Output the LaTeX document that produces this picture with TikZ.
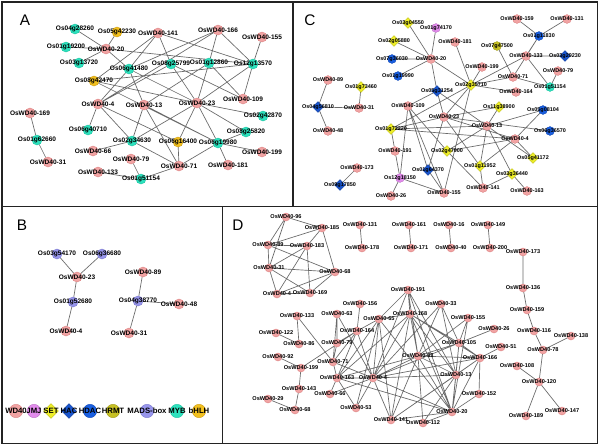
\documentclass[tikz,border=0pt]{standalone}
\usepackage{fontspec}
\setmainfont{Liberation Sans}
\usetikzlibrary{shapes.geometric}
\pgfdeclarelayer{bg}
\pgfsetlayers{bg,main}
\definecolor{wdf}{RGB}{241,163,163}\definecolor{wdd}{RGB}{220,130,130}
\definecolor{mybf}{RGB}{45,226,190}\definecolor{mybd}{RGB}{25,195,160}
\definecolor{bhlhf}{RGB}{242,192,30}\definecolor{bhlhd}{RGB}{205,155,15}
\definecolor{setf}{RGB}{238,238,40}\definecolor{setd}{RGB}{190,190,20}
\definecolor{jmjf}{RGB}{226,140,236}\definecolor{jmjd}{RGB}{190,110,200}
\definecolor{hacf}{RGB}{25,85,205}\definecolor{hacd}{RGB}{15,60,160}
\definecolor{hdacf}{RGB}{25,95,225}\definecolor{hdacd}{RGB}{15,70,180}
\definecolor{hrmtf}{RGB}{198,192,35}\definecolor{hrmtd}{RGB}{160,155,20}
\definecolor{madsf}{RGB}{152,150,236}\definecolor{madsd}{RGB}{120,118,205}
\definecolor{edgec}{RGB}{105,105,105}
\definecolor{bordc}{RGB}{35,35,35}
\tikzset{
  base/.style={inner sep=0pt,outer sep=0pt,line width=0.3pt},
  wd/.style={base,circle,fill=wdf,draw=wdd,sz},
  myb/.style={base,circle,fill=mybf,draw=mybd,sz},
  bhlh/.style={base,circle,fill=bhlhf,draw=bhlhd,sz},
  jmj/.style={base,circle,fill=jmjf,draw=jmjd,sz},
  hdac/.style={base,circle,fill=hdacf,draw=hdacd,sz},
  hrmt/.style={base,circle,fill=hrmtf,draw=hrmtd,sz},
  mads/.style={base,circle,fill=madsf,draw=madsd,sz},
  setd/.style={base,diamond,aspect=1,fill=setf,draw=setd,dsz},
  hac/.style={base,diamond,aspect=1,fill=hacf,draw=hacd,dsz},
  sz/.style={minimum size=7.5pt},
  dsz/.style={minimum size=8.5pt},
  lab/.style={font=\bfseries\fontsize{4.9}{5}\selectfont,inner sep=0pt},
  edge/.style={draw=edgec,line width=0.5pt},
  border/.style={draw=bordc,line width=1.2pt},
  plab/.style={font=\fontsize{11.5}{12}\selectfont,inner sep=0pt}
}
\newcommand{\mynode}[4]{\node[#1,label={[lab]center:#4}] (#2) at (#3) {};}
\begin{document}
\begin{tikzpicture}[x=0.75pt,y=-0.75pt]
\useasboundingbox (0,0) rectangle (600,446);
% panel letters
\node[plab] (labA) at (25,20) {A};
\node[plab] (labB) at (22,225) {B};
\node[plab] (labC) at (310,20) {C};
\node[plab] (labD) at (238,225) {D};
% ---------------- Panel A
\begin{scope}[lab/.style={font=\bfseries\fontsize{4.9}{5}\selectfont,inner sep=0pt},sz/.style={minimum size=7.5pt}]
\mynode{wd}{a141}{158,33}{OsWD40-141}
\mynode{wd}{a166}{218,30}{OsWD40-166}
\mynode{wd}{a155}{262,37}{OsWD40-155}
\mynode{wd}{a20}{106,49}{OsWD40-20}
\mynode{wd}{a4}{98,104}{OsWD40-4}
\mynode{wd}{a13}{144,105}{OsWD40-13}
\mynode{wd}{a23}{197,103}{OsWD40-23}
\mynode{wd}{a109}{243,99}{OsWD40-109}
\mynode{wd}{a169}{30,113}{OsWD40-169}
\mynode{wd}{a66}{93,151}{OsWD40-66}
\mynode{wd}{a79}{131,159}{OsWD40-79}
\mynode{wd}{a31}{48,162}{OsWD40-31}
\mynode{wd}{a71}{179,166}{OsWD40-71}
\mynode{wd}{a133}{98,172}{OsWD40-133}
\mynode{wd}{a199}{262,152}{OsWD40-199}
\mynode{wd}{a181}{228,165}{OsWD40-181}
\mynode{myb}{aM1}{75,29}{Os04g28260}
\mynode{myb}{aM2}{66,47}{Os01g19200}
\mynode{myb}{aM3}{79,63}{Os03g13720}
\mynode{myb}{aM4}{129,69}{Os06g41480}
\mynode{myb}{aM5}{171,64}{Os08g25799}
\mynode{myb}{aM6}{209,63}{Os01g12860}
\mynode{myb}{aM7}{253,64}{Os12g13570}
\mynode{myb}{aM8}{88,130}{Os06g40710}
\mynode{myb}{aM9}{37,140}{Os01g62660}
\mynode{myb}{aM10}{132,141}{Os02g34630}
\mynode{myb}{aM11}{218,143}{Os06g19980}
\mynode{myb}{aM12}{263,116}{Os02g42870}
\mynode{myb}{aM13}{246,132}{Os08g25820}
\mynode{myb}{aM14}{141,179}{Os01g51154}
\mynode{bhlh}{aB1}{117,32}{Os05g42230}
\mynode{bhlh}{aB2}{94,81}{Os08g42470}
\mynode{bhlh}{aB3}{178,142}{Os06g16400}
\end{scope}
% ---------------- Panel C
\begin{scope}[lab/.style={font=\bfseries\fontsize{4.1}{5}\selectfont,inner sep=0pt},sz/.style={minimum size=6.6pt},dsz/.style={minimum size=8pt}]
\mynode{wd}{c181}{455,42}{OsWD40-181}
\mynode{wd}{c20}{431,59}{OsWD40-20}
\mynode{wd}{c89}{328,80}{OsWD40-89}
\mynode{wd}{c31}{359,108}{OsWD40-31}
\mynode{wd}{c109}{408,106}{OsWD40-109}
\mynode{wd}{c23}{444,117}{OsWD40-23}
\mynode{wd}{c48}{328,131}{OsWD40-48}
\mynode{wd}{c191}{395,151}{OsWD40-191}
\mynode{wd}{c173}{357,168}{OsWD40-173}
\mynode{wd}{c26}{391,196}{OsWD40-26}
\mynode{wd}{c155}{444,193}{OsWD40-155}
\mynode{wd}{c159}{517,19}{OsWD40-159}
\mynode{wd}{c131}{567,19}{OsWD40-131}
\mynode{wd}{c133}{526,56}{OsWD40-133}
\mynode{wd}{c199}{482,67}{OsWD40-199}
\mynode{wd}{c79}{558,71}{OsWD40-79}
\mynode{wd}{c71}{513,77}{OsWD40-71}
\mynode{wd}{c164}{516,92}{OsWD40-164}
\mynode{wd}{c13}{487,126}{OsWD40-13}
\mynode{wd}{c4}{515,139}{OsWD40-4}
\mynode{wd}{c141}{483,188}{OsWD40-141}
\mynode{wd}{c163}{527,191}{OsWD40-163}
\mynode{setd}{cS1}{408,23}{Os03g04550}
\mynode{setd}{cS2}{394,41}{Os02g05880}
\mynode{setd}{cS3}{361,87}{Os01g73460}
\mynode{setd}{cS4}{471,85}{Os02g35710}
\mynode{setd}{cS5}{499,107}{Os11g38900}
\mynode{setd}{cS6}{391,129}{Os01g72220}
\mynode{setd}{cS7}{447,151}{Os02g47900}
\mynode{setd}{cS8}{533,158}{Os05g41172}
\mynode{setd}{cS9}{480,166}{Os01g11952}
\mynode{setd}{cS10}{512,174}{Os03g36440}
\mynode{jmj}{cJ1}{436,28}{Os01g74170}
\mynode{jmj}{cJ2}{400,178}{Os12g18150}
\mynode{hdac}{cH1}{392,59}{Os07g36030}
\mynode{hdac}{cH2}{398,76}{Os01g19990}
\mynode{hdac}{cH3}{539,36}{Os01g11830}
\mynode{hdac}{cH4}{543,110}{Os05g08104}
\mynode{hdac}{cH5}{550,131}{Os06g36570}
\mynode{hac}{cA1}{437,91}{Os05g31254}
\mynode{hac}{cA2}{318,107}{Os04g56810}
\mynode{hac}{cA3}{565,56}{Os03g29230}
\mynode{hac}{cA4}{428,170}{Os01g64370}
\mynode{hac}{cA5}{340,185}{Os09g17850}
\mynode{hrmt}{cR1}{497,46}{Os07g47500}
\mynode{myb}{cM1}{550,87}{Os01g51154}
\end{scope}
% ---------------- Panel B
\begin{scope}[lab/.style={font=\bfseries\fontsize{4.9}{5}\selectfont,inner sep=0pt},sz/.style={minimum size=7.5pt}]
\mynode{mads}{bM1}{57,254}{Os03g54170}
\mynode{mads}{bM2}{102,254}{Os06g36680}
\mynode{wd}{b23}{77,277}{OsWD40-23}
\mynode{mads}{bM3}{73,302}{Os01g52680}
\mynode{wd}{b4}{66,331}{OsWD40-4}
\mynode{wd}{b89}{143,272}{OsWD40-89}
\mynode{mads}{bM4}{138,301}{Os04g38770}
\mynode{wd}{b48}{179,304}{OsWD40-48}
\mynode{wd}{b31}{129,333}{OsWD40-31}
\end{scope}
% legend
\begin{scope}[lab/.style={font=\bfseries\fontsize{5.8}{6}\selectfont,inner sep=0pt},sz/.style={minimum size=10pt},dsz/.style={minimum size=11pt}]
\mynode{wd}{g1}{16,411}{WD40}
\mynode{jmj}{g2}{34,411}{JMJ}
\mynode{setd}{g3}{51,411}{SET}
\mynode{hac}{g4}{69,411}{HAC}
\mynode{hdac}{g5}{90,411}{HDAC}
\mynode{hrmt}{g6}{113,411}{HRMT}
\mynode{mads}{g7}{147,411}{MADS-box}
\mynode{myb}{g8}{177,411}{MYB}
\mynode{bhlh}{g9}{199,411}{bHLH}
\end{scope}
% ---------------- Panel D
\begin{scope}[lab/.style={font=\bfseries\fontsize{4.2}{5}\selectfont,inner sep=0pt},sz/.style={minimum size=6pt}]
\mynode{wd}{d96}{286,217}{OsWD40-96}
\mynode{wd}{d185}{322,228}{OsWD40-185}
\mynode{wd}{d89}{268,245}{OsWD40-89}
\mynode{wd}{d183}{307,246}{OsWD40-183}
\mynode{wd}{d31}{269,268}{OsWD40-31}
\mynode{wd}{d68}{335,272}{OsWD40-68}
\mynode{wd}{dW4}{277,294}{OsWD40-4}
\mynode{wd}{d169}{310,293}{OsWD40-169}
\mynode{wd}{d131}{360,225}{OsWD40-131}
\mynode{wd}{d178}{362,248}{OsWD40-178}
\mynode{wd}{d161}{409,225}{OsWD40-161}
\mynode{wd}{d171}{411,248}{OsWD40-171}
\mynode{wd}{d16}{449,225}{OsWD40-16}
\mynode{wd}{d40}{451,248}{OsWD40-40}
\mynode{wd}{d149}{488,225}{OsWD40-149}
\mynode{wd}{d200}{490,248}{OsWD40-200}
\mynode{wd}{d173}{523,252}{OsWD40-173}
\mynode{wd}{d136}{523,288}{OsWD40-136}
\mynode{wd}{d159}{527,310}{OsWD40-159}
\mynode{wd}{d116}{534,331}{OsWD40-116}
\mynode{wd}{d138}{571,336}{OsWD40-138}
\mynode{wd}{d78}{543,350}{OsWD40-78}
\mynode{wd}{d108}{517,366}{OsWD40-108}
\mynode{wd}{d120}{539,382}{OsWD40-120}
\mynode{wd}{d189}{526,416}{OsWD40-189}
\mynode{wd}{d147}{562,411}{OsWD40-147}
\mynode{wd}{d191}{408,290}{OsWD40-191}
\mynode{wd}{d168}{410,314}{OsWD40-168}
\mynode{wd}{d33}{441,304}{OsWD40-33}
\mynode{wd}{d155}{468,318}{OsWD40-155}
\mynode{wd}{d26}{494,329}{OsWD40-26}
\mynode{wd}{d105}{459,343}{OsWD40-105}
\mynode{wd}{d51}{501,347}{OsWD40-51}
\mynode{wd}{d83}{418,356}{OsWD40-83}
\mynode{wd}{d166}{480,358}{OsWD40-166}
\mynode{wd}{d13}{456,375}{OsWD40-13}
\mynode{wd}{d152}{479,394}{OsWD40-152}
\mynode{wd}{d20}{452,412}{OsWD40-20}
\mynode{wd}{d112}{423,423}{OsWD40-112}
\mynode{wd}{d141}{391,420}{OsWD40-141}
\mynode{wd}{d53}{356,408}{OsWD40-53}
\mynode{wd}{dC4}{373,378}{OsWD40-4}
\mynode{wd}{d163}{337,378}{OsWD40-163}
\mynode{wd}{d66}{330,394}{OsWD40-66}
\mynode{wd}{d71}{333,362}{OsWD40-71}
\mynode{wd}{d79}{337,343}{OsWD40-79}
\mynode{wd}{d164}{357,331}{OsWD40-164}
\mynode{wd}{d65}{379,319}{OsWD40-65}
\mynode{wd}{d63}{337,314}{OsWD40-63}
\mynode{wd}{d156}{360,304}{OsWD40-156}
\mynode{wd}{d133}{297,316}{OsWD40-133}
\mynode{wd}{d122}{276,333}{OsWD40-122}
\mynode{wd}{d86}{299,344}{OsWD40-86}
\mynode{wd}{d92}{278,357}{OsWD40-92}
\mynode{wd}{d199}{301,368}{OsWD40-199}
\mynode{wd}{d143}{299,389}{OsWD40-143}
\mynode{wd}{d29}{268,399}{OsWD40-29}
\mynode{wd}{d68b}{295,410}{OsWD40-68}
\end{scope}
\begin{pgfonlayer}{bg}
\fill[white] (0,0) rectangle (600,446);
\draw[border] (2,2) rectangle (597.5,443.5);
\draw[border] (293,2) -- (293,206.5);
\draw[border] (2,206.5) -- (597.5,206.5);
\draw[border] (222.5,206.5) -- (222.5,443.5);
% A edges
\draw[edge] (aM1)--(a20) (aM2)--(a20) (aM3)--(a20) (aB1)--(a20) (a20)--(aM4) (a20)--(aM7)
 (a141)--(aM4) (a141)--(aM5) (a141)--(aM7) (a141)--(aB2)
 (a166)--(aM4) (a166)--(aM6) (a166)--(aM7) (a166)--(a4) (a155)--(aM7)
 (aM4)--(a4) (aM4)--(a13) (aM4)--(a23)
 (aM5)--(a4) (aM5)--(a23) (aM5)--(a109)
 (aM6)--(a23) (aM6)--(a13) (aM6)--(a109)
 (aM7)--(a109) (aM7)--(a23) (aM7)--(aB2)
 (aB2)--(a23) (aB2)--(aM11)
 (a4)--(aM8) (a4)--(aM10) (a4)--(aB3)
 (a13)--(aM10) (a13)--(aM11) (a13)--(a71)
 (a23)--(aM12) (a23)--(aM11) (a23)--(aB3) (a23)--(aM10) (a23)--(aM13)
 (aM11)--(a199) (aM11)--(a181) (aM11)--(a71) (aM11)--(aM13)
 (aB3)--(a71) (aM10)--(a66) (aM10)--(a71)
 (a79)--(aM14) (a133)--(aM14) (aM14)--(a71)
 (a169)--(aM9) (aM9)--(a31);
% C edges
\draw[edge] (cS1)--(c20) (cJ1)--(c20) (cS2)--(c20) (cH1)--(c20) (cH2)--(c20) (c20)--(cA1) (c20)--(cS4) (c181)--(cS4)
 (c89)--(cA2) (cA2)--(c31) (cA2)--(c48) (cS3)--(c31) (c173)--(cA5)
 (cA1)--(c109) (cA1)--(c23) (cA1)--(c13)
 (c159)--(cH3) (c131)--(cH3) (cH3)--(c133) (cH3)--(c71)
 (c133)--(cA3) (c133)--(cM1) (c133)--(cS4) (c79)--(cM1) (c71)--(cM1) (c71)--(cS4) (cR1)--(c71)
 (c199)--(cS4) (cS4)--(c164) (cS4)--(c23) (cS4)--(cS6) (cS4)--(c155)
 (cS5)--(c23) (cS5)--(c13) (cH4)--(c13) (cH4)--(c4) (cH5)--(c23)
 (c4)--(c23) (c4)--(cS7) (c4)--(cS9) (c4)--(cS8) (c13)--(cS9) (c13)--(cS10)
 (c23)--(cS9) (cS6)--(c23) (cS6)--(c13) (cS6)--(c4) (cS6)--(c191)
 (c109)--(cJ2) (c109)--(cS7) (c109)--(c155) (c191)--(cJ2) (cJ2)--(c26) (cJ2)--(c155)
 (cA4)--(c23) (cA4)--(c155) (cA4)--(c109)
 (cS7)--(c13) (cS7)--(c141) (cS9)--(c141) (cS10)--(c141) (cS10)--(c163) (cS8)--(c13);
% B edges
\draw[edge] (bM1)--(b23) (bM2)--(b23) (b23)--(bM3) (bM3)--(b4)
 (b89)--(bM4) (bM4)--(b48) (bM4)--(b31);
% D edges
\draw[edge] (d96)--(d89) (d96)--(d185) (d96)--(d31) (d185)--(d89) (d185)--(d183) (d185)--(d68)
 (d89)--(d183) (d89)--(d31) (d89)--(d68) (d183)--(d31) (d183)--(dW4) (d183)--(d169)
 (d31)--(d68) (d31)--(dW4) (d31)--(d169) (d68)--(d169) (d68)--(dW4) (dW4)--(d169)
 (d131)--(d178) (d161)--(d171) (d16)--(d40) (d149)--(d200)
 (d173)--(d136) (d136)--(d159) (d159)--(d116) (d116)--(d78) (d138)--(d78) (d78)--(d120)
 (d108)--(d120) (d120)--(d189) (d120)--(d147)
 (d191)--(d168) (d191)--(d65) (d191)--(dC4) (d191)--(d83) (d191)--(d13) (d191)--(d20)
 (d168)--(d65) (d168)--(dC4) (d168)--(d83) (d168)--(d105) (d168)--(d166) (d168)--(d13)
 (d168)--(d20) (d168)--(d141) (d168)--(d163)
 (d33)--(d83) (d33)--(d105) (d33)--(d13) (d33)--(dC4)
 (d155)--(d105) (d155)--(d83) (d155)--(d20) (d26)--(d105) (d51)--(d166)
 (d105)--(d166) (d105)--(d83) (d105)--(d13) (d105)--(d20) (d105)--(dC4)
 (d83)--(d166) (d83)--(d13) (d83)--(d20) (d83)--(d112) (d83)--(d141) (d83)--(dC4) (d83)--(d163)
 (d166)--(d13) (d166)--(d152) (d166)--(d20) (d166)--(dC4) (d166)--(d141)
 (d13)--(d20) (d13)--(dC4) (d13)--(d141) (d13)--(d112)
 (d152)--(d20) (d20)--(d112) (d20)--(dC4) (d20)--(d141) (d20)--(d163) (d20)--(d65)
 (d141)--(dC4) (d53)--(dC4) (d53)--(d163) (d53)--(d65)
 (dC4)--(d163) (dC4)--(d66) (dC4)--(d65) (dC4)--(d164) (dC4)--(d63) (dC4)--(d71)
 (d163)--(d66) (d163)--(d71) (d163)--(d164) (d163)--(d65)
 (d71)--(d79) (d71)--(d164) (d71)--(d63) (d79)--(d63) (d79)--(d164)
 (d164)--(d156) (d164)--(d65) (d65)--(d141) (d133)--(d71)
 (d86)--(d133) (d86)--(d122) (d199)--(d92) (d199)--(d143) (d199)--(d164)
 (d143)--(d68b) (d68b)--(d29);
\end{pgfonlayer}
\end{tikzpicture}
\end{document}
